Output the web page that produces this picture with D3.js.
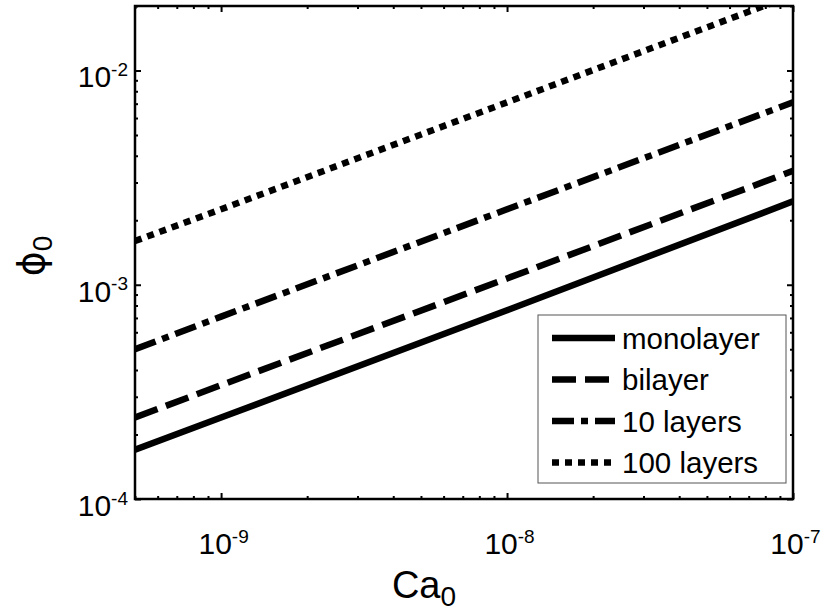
<!DOCTYPE html>
<html lang="en">
<head>
    <meta charset="UTF-8">
    <script src="https://cdnjs.cloudflare.com/ajax/libs/d3/7.8.5/d3.min.js"></script>
    <style>
        body { margin: 0; background: #fff; }
        text { font-family: "Liberation Sans", Arial, sans-serif; fill: #000; }
    </style>
</head>
<body>
    <svg id="chart" width="823" height="616"></svg>
    <script>
        // values (Ca0 -> phi0)
        let caValues = [5e-10, 1e-9, 1e-8, 1e-7];
        let monolayer = [1.7e-4, 2.4e-4, 7.6e-4, 2.45e-3];
        let bilayer = [2.4e-4, 3.4e-4, 1.07e-3, 3.4e-3];
        let tenLayers = [5.0e-4, 7.1e-4, 2.25e-3, 7.1e-3];
        let hundredLayers = [1.6e-3, 2.25e-3, 7.1e-3, 2.25e-2];
        let seriesNames = ["monolayer", "bilayer", "10 layers", "100 layers"];
        let xTickExp = [-9, -8, -7];
        let yTickExp = [-4, -3, -2];

        let dashes = [null, "24,9", "22,7,7,7", "7,6"];
        let allSeries = [monolayer, bilayer, tenLayers, hundredLayers];

        let margin = {left: 135, right: 30, top: 6, bottom: 117};
        let width = 823 - margin.left - margin.right;
        let height = 616 - margin.top - margin.bottom;

        let svg = d3.select("#chart");
        let g = svg.append("g").attr("transform", `translate(${margin.left},${margin.top})`);

        let xScale = d3.scaleLog().domain([5e-10, 1e-7]).range([0, width]);
        let yScale = d3.scaleLog().domain([1e-4, 2e-2]).range([height, 0]);

        // minor ticks 1..9 per decade inside the domain
        function logTicks(scale) {
            let [a, b] = scale.domain();
            let out = [];
            for (let e = Math.floor(Math.log10(a)); e <= Math.ceil(Math.log10(b)); e++) {
                for (let m = 1; m <= 9; m++) {
                    let v = m * Math.pow(10, e);
                    if (v >= a * 0.999 && v <= b * 1.001) out.push(v);
                }
            }
            return out;
        }
        let xMinor = logTicks(xScale).filter(v => !xTickExp.some(e => Math.abs(v / Math.pow(10, e) - 1) < 1e-6));
        let yMinor = logTicks(yScale).filter(v => !yTickExp.some(e => Math.abs(v / Math.pow(10, e) - 1) < 1e-6));
        let xMajor = xTickExp.map(e => Math.pow(10, e));
        let yMajor = yTickExp.map(e => Math.pow(10, e));

        function styleAxis(sel) {
            sel.select(".domain").remove();
            sel.selectAll("line").attr("stroke", "#000").attr("stroke-width", 2);
        }

        // ticks on all four sides, pointing inwards
        g.append("g").attr("transform", `translate(0,${height})`)
            .call(d3.axisBottom(xScale).tickValues(xMinor).tickSize(-3).tickFormat("")).call(styleAxis);
        let xAxisG = g.append("g").attr("transform", `translate(0,${height})`)
            .call(d3.axisBottom(xScale).tickValues(xMajor).tickSize(-6).tickPadding(34).tickFormat(d => d)).call(styleAxis);
        g.append("g").call(d3.axisTop(xScale).tickValues(xMinor).tickSize(-3).tickFormat("")).call(styleAxis);
        g.append("g").call(d3.axisTop(xScale).tickValues(xMajor).tickSize(-6).tickFormat("")).call(styleAxis);

        g.append("g").call(d3.axisLeft(yScale).tickValues(yMinor).tickSize(-3).tickFormat("")).call(styleAxis);
        let yAxisG = g.append("g")
            .call(d3.axisLeft(yScale).tickValues(yMajor).tickSize(-6).tickPadding(7).tickFormat(d => d)).call(styleAxis);
        g.append("g").attr("transform", `translate(${width},0)`)
            .call(d3.axisRight(yScale).tickValues(yMinor).tickSize(-3).tickFormat("")).call(styleAxis);
        g.append("g").attr("transform", `translate(${width},0)`)
            .call(d3.axisRight(yScale).tickValues(yMajor).tickSize(-6).tickFormat("")).call(styleAxis);

        // power-of-ten labels with superscript
        function powLabel(text, d) {
            let e = Math.round(Math.log10(d));
            text.text(null).style("font-size", "30px");
            text.append("tspan").text("10");
            text.append("tspan").attr("dy", "-0.6em").style("font-size", "19px").text(e);
        }
        xAxisG.selectAll(".tick text").each(function (d) {
            d3.select(this).attr("text-anchor", "middle").attr("dx", "2").call(powLabel, d);
        });
        yAxisG.selectAll(".tick text").each(function (d) {
            d3.select(this).attr("text-anchor", "end").attr("dy", "0.55em").call(powLabel, d);
        });

        // frame
        g.append("rect").attr("width", width).attr("height", height)
            .attr("fill", "none").attr("stroke", "#000").attr("stroke-width", 2.5);

        // curves
        g.append("clipPath").attr("id", "clip").append("rect").attr("width", width).attr("height", height);
        let line = d3.line().x(d => xScale(d[0])).y(d => yScale(d[1]));
        g.append("g").attr("clip-path", "url(#clip)")
            .selectAll("path").data(allSeries).enter().append("path")
            .attr("d", s => line(s.map((v, i) => [caValues[i], v])))
            .attr("fill", "none").attr("stroke", "#000").attr("stroke-width", 6.5)
            .attr("stroke-dasharray", (s, i) => dashes[i]);

        // legend
        let legend = g.append("g").attr("transform", `translate(${538 - margin.left},${315 - margin.top})`);
        legend.append("rect").attr("width", 248).attr("height", 168)
            .attr("fill", "#fff").attr("stroke", "#555").attr("stroke-width", 1);
        let rows = legend.selectAll("g.row").data(seriesNames).enter().append("g")
            .attr("transform", (d, i) => `translate(0,${23 + i * 41.5})`);
        rows.append("line").attr("x1", 14).attr("x2", 77).attr("y1", 0).attr("y2", 0)
            .attr("stroke", "#000").attr("stroke-width", 6.5)
            .attr("stroke-dasharray", (d, i) => dashes[i]);
        rows.append("text").attr("x", 84).attr("dy", "0.36em").style("font-size", "29.5px").text(d => d);

        // axis titles
        let xTitle = svg.append("text").attr("x", 424).attr("y", 598)
            .attr("text-anchor", "middle").style("font-size", "38px");
        xTitle.append("tspan").text("Ca");
        xTitle.append("tspan").attr("dy", "0.3em").style("font-size", "28px").text("0");

        let yTitle = svg.append("text").attr("transform", "translate(44,256) rotate(-90)")
            .attr("text-anchor", "middle").style("font-size", "38px");
        yTitle.append("tspan").style("font-family", "DejaVu Sans").text("\u03d5");
        yTitle.append("tspan").attr("dy", "0.3em").style("font-size", "28px").text("0");
    </script>
</body>
</html>
